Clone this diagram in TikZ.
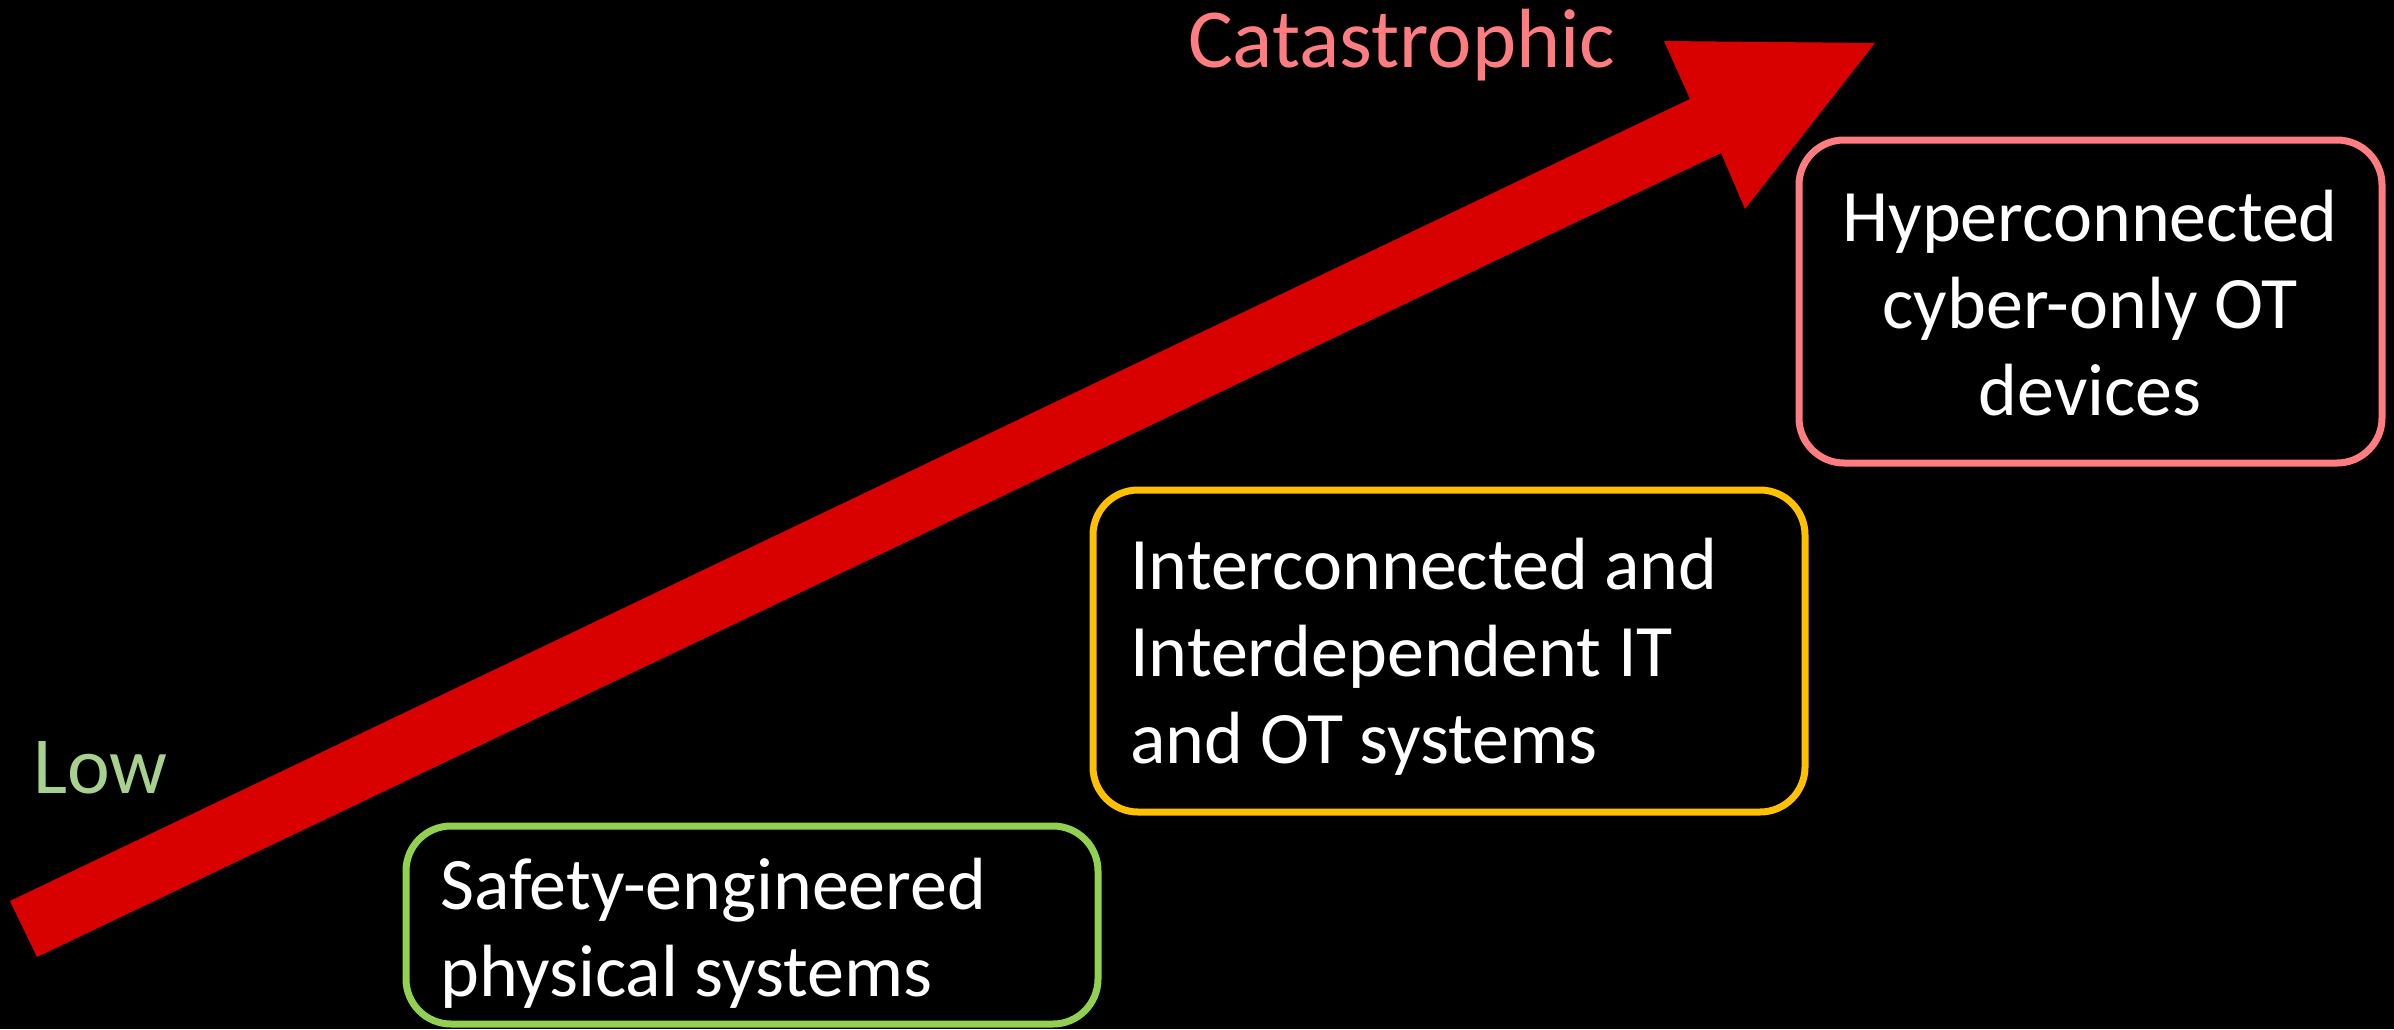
\documentclass[tikz,border=0pt]{standalone}
\usepackage{fontspec}
\setmainfont{Carlito}
\definecolor{arrowred}{HTML}{D90000}
\definecolor{lowgreen}{HTML}{A9D18E}
\definecolor{boxgreen}{HTML}{92D050}
\definecolor{boxyellow}{HTML}{FFC000}
\definecolor{salmon}{HTML}{FF7C80}
\begin{document}
\begin{tikzpicture}[x=1pt,y=-1pt,
  riskbox/.style={draw=#1, line width=7pt, rounded corners=45pt, fill=black, inner sep=0pt},
  boxtext/.style={text=white, inner sep=0pt, font=\fontsize{74}{87}\selectfont},
  scaletext/.style={text=#1, inner sep=0pt}]
\useasboundingbox[fill=black] (0,0) rectangle (2394,1029);
% arrow
\coordinate (tailA) at (10,901);
\coordinate (tailB) at (37,957);
\coordinate (neckA) at (1690,99);
\coordinate (barbA) at (1664,41);
\coordinate (tip) at (1875,43);
\coordinate (barbB) at (1745,209);
\coordinate (neckB) at (1721,153);
\fill[arrowred] (tailA) -- (neckA) -- (barbA) -- (tip) -- (barbB) -- (neckB) -- (tailB) -- cycle;
% boxes
\draw[riskbox=boxgreen] (406,826) rectangle (1098,1024);
\draw[riskbox=boxyellow] (1093,490) rectangle (1805,812);
\draw[riskbox=salmon] (1799,140) rectangle (2382,463);
% texts (base anchor = last line baseline)
\node[boxtext, anchor=base west, align=left] (safety) at (440,996) {Safety-engineered\\physical systems};
\node[boxtext, anchor=base west, align=left] (inter) at (1130,763) {Interconnected and\\Interdependent IT\\and OT systems};
\node[boxtext, anchor=base, align=center] (hyper) at (2090,415) {Hyperconnected\\cyber-only OT\\devices};
\node[scaletext=salmon, anchor=base west, font=\fontsize{84}{100}\selectfont] (cat) at (1188,67) {Catastrophic};
\node[scaletext=lowgreen, anchor=base west, font=\fontsize{81}{97}\selectfont] (low) at (33,793) {Low};
\end{tikzpicture}
\end{document}
